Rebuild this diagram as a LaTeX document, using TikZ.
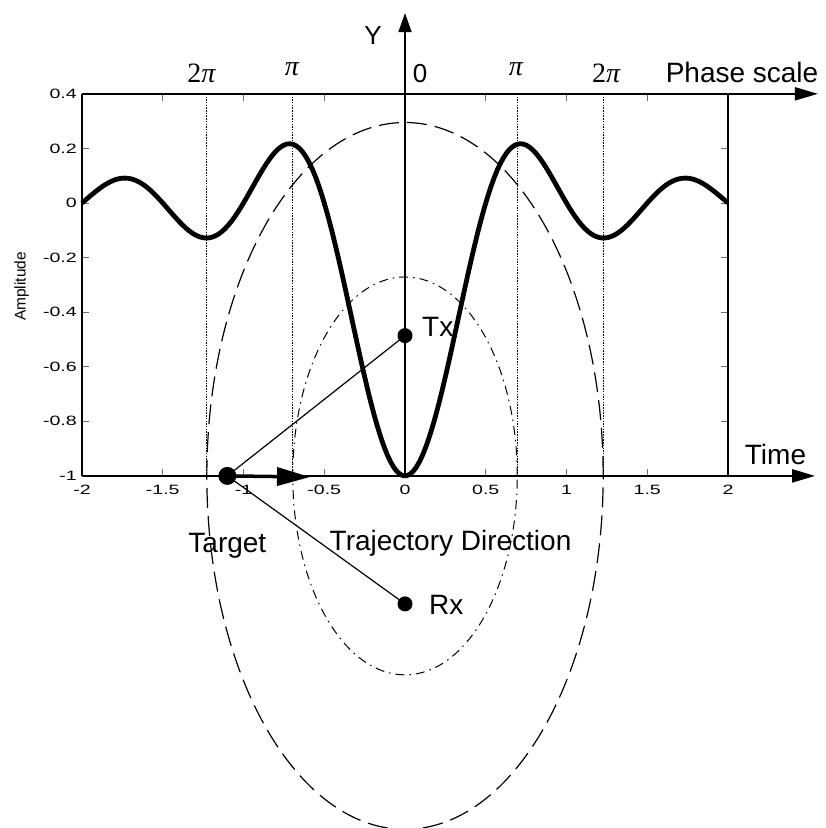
\documentclass[tikz,border=0pt]{standalone}
\usepackage{fontspec}
\setmainfont{Liberation Sans}
\newfontfamily\phasefont{Liberation Serif}
\usepackage{graphicx}
\definecolor{tickgray}{RGB}{110,110,110}
\usetikzlibrary{arrows.meta, positioning, calc}
\newcommand{\ticklab}[1]{\scalebox{1.45}[1]{#1}}

\begin{document}
\begin{tikzpicture}[x=1pt, y=-1pt,
    lab/.style={font=\fontsize{28}{30}\selectfont, inner sep=0pt},
    axlab/.style={font=\fontsize{26}{28}\selectfont, inner sep=0pt, anchor=base},
    ticklabel/.style={font=\fontsize{13.5}{14}\selectfont, inner sep=0pt},
    phaselab/.style={font=\fontsize{28}{30}\selectfont\phasefont, inner sep=0pt, anchor=base},
    dot/.style={circle, fill=black, inner sep=0pt}]
  \useasboundingbox (0,0) rectangle (826,828);

  % plot area in data units (time, amplitude)
  \begin{scope}[shift={(405,203)}, x=161.5pt, y=272.9pt]
    % ellipses
    \draw[line width=1.2pt, dash pattern=on 20pt off 8pt]
      (0,-1) ellipse [x radius=1.227, y radius=1.295];
    \draw[line width=1pt, dash pattern=on 9pt off 5pt on 1.5pt off 5pt]
      (0,-1) ellipse [x radius=0.695, y radius=0.729];

    % phase marks
    \foreach \p in {-1.227,-0.695,0.695,1.227}{
      \draw[line width=1.3pt, dash pattern=on 1.5pt off 1.2pt] (\p,0.4) -- (\p,-1);
    }

    % ticks
    \foreach \t in {-1.5,-1,-0.5,0,0.5,1,1.5}{
      \draw[tickgray, line width=0.8pt] (\t,-1) -- ++(0,0.026);
      \draw[tickgray, line width=0.8pt] (\t,0.4) -- ++(0,-0.026);
    }
    \foreach \a in {0.2,0,-0.2,-0.4,-0.6,-0.8}{
      \draw[tickgray, line width=0.8pt] (-2,\a) -- ++(0.043,0);
      \draw[tickgray, line width=0.8pt] (2,\a) -- ++(-0.043,0);
    }
    % tick labels
    \foreach \t in {-2,-1.5,-1,-0.5,0,0.5,1,1.5,2}{
      \node[ticklabel, anchor=north] at (\t,-1.033) {\ticklab{\t}};
    }
    \foreach \a in {0.4,0.2,0,-0.2,-0.4,-0.6,-0.8,-1}{
      \node[ticklabel, anchor=east] at (-2.031,\a) {\ticklab{\a}};
    }
    \node[font=\fontsize{15.5}{16}\selectfont, inner sep=0pt, rotate=90] (amp)
      at (-2.374,-0.306) {Amplitude};

    % sinc pulse
    \draw[line width=4.8pt, line join=round]
      plot[domain=-2:2, samples=200] (\x, {-sin(360*\x)/(2*pi*\x)});

    % frame and axes
    \coordinate (origin) at (0,-1);
    \coordinate (ytip) at (0,0.696);
    \coordinate (tl) at (-2,0.4);
    \coordinate (bl) at (-2,-1);
    \coordinate (tr) at (2,0.4);
    \coordinate (br) at (2,-1);
    \coordinate (phasetip) at (2.557,0.4);
    \coordinate (timetip) at (2.539,-1);
    \draw[line width=1.2pt] (tl) -- (bl);
    \draw[line width=1.2pt] (tr) -- (br);
    \draw[line width=2pt, -{Triangle[length=23pt, width=13pt]}] (tl) -- (phasetip);
    \draw[line width=2.5pt, -{Triangle[length=23pt, width=13pt]}] (bl) -- (timetip);
    \draw[line width=1.5pt, -{Triangle[length=19pt, width=13pt]}] (origin) -- (ytip);

    % target, transmitter, receiver
    \node[dot, minimum size=18pt] (target) at (-1.1,-1) {};
    \node[dot, minimum size=15pt] (tx) at (0,-0.486) {};
    \node[dot, minimum size=15pt] (rx) at (0,-1.469) {};
    \coordinate (trajend) at (-0.588,-1.004);
    \draw[line width=1.2pt] (target.center) -- (tx.center);
    \draw[line width=1.2pt] (target.center) -- (rx.center);
    \draw[line width=3.5pt, -{Triangle[length=33pt, width=18pt]}] (target.center) -- (trajend);

    % labels
    \node[axlab] (ylab) at (-0.198,0.579) {Y};
    \node[axlab] (zero) at (0.093,0.443) {0};
    \node[phaselab] (ltwopi) at (-1.26,0.443) {2{\itshape π}};
    \node[phaselab] (lpi) at (-0.70,0.469) {{\itshape π}};
    \node[phaselab] (rpi) at (0.687,0.469) {{\itshape π}};
    \node[phaselab] (rtwopi) at (1.245,0.443) {2{\itshape π}};
    \node[lab, anchor=base] (phase) at (2.087,0.44) {Phase scale};
    \node[lab, anchor=base] (time) at (2.294,-0.96) {Time};
    \node[lab, anchor=base west] (txlab) at ([xshift=17pt, yshift=-1pt]tx.center) {Tx};
    \node[lab, anchor=base west] (rxlab) at ([xshift=24pt, yshift=-11pt]rx.center) {Rx};
    \node[lab, anchor=base] (targetlab) at ([yshift=-77pt]target.center) {Target};
    \node[lab, anchor=base] (trajlab) at (0.282,-1.2715) {Trajectory Direction};
  \end{scope}
\end{tikzpicture}
\end{document}
